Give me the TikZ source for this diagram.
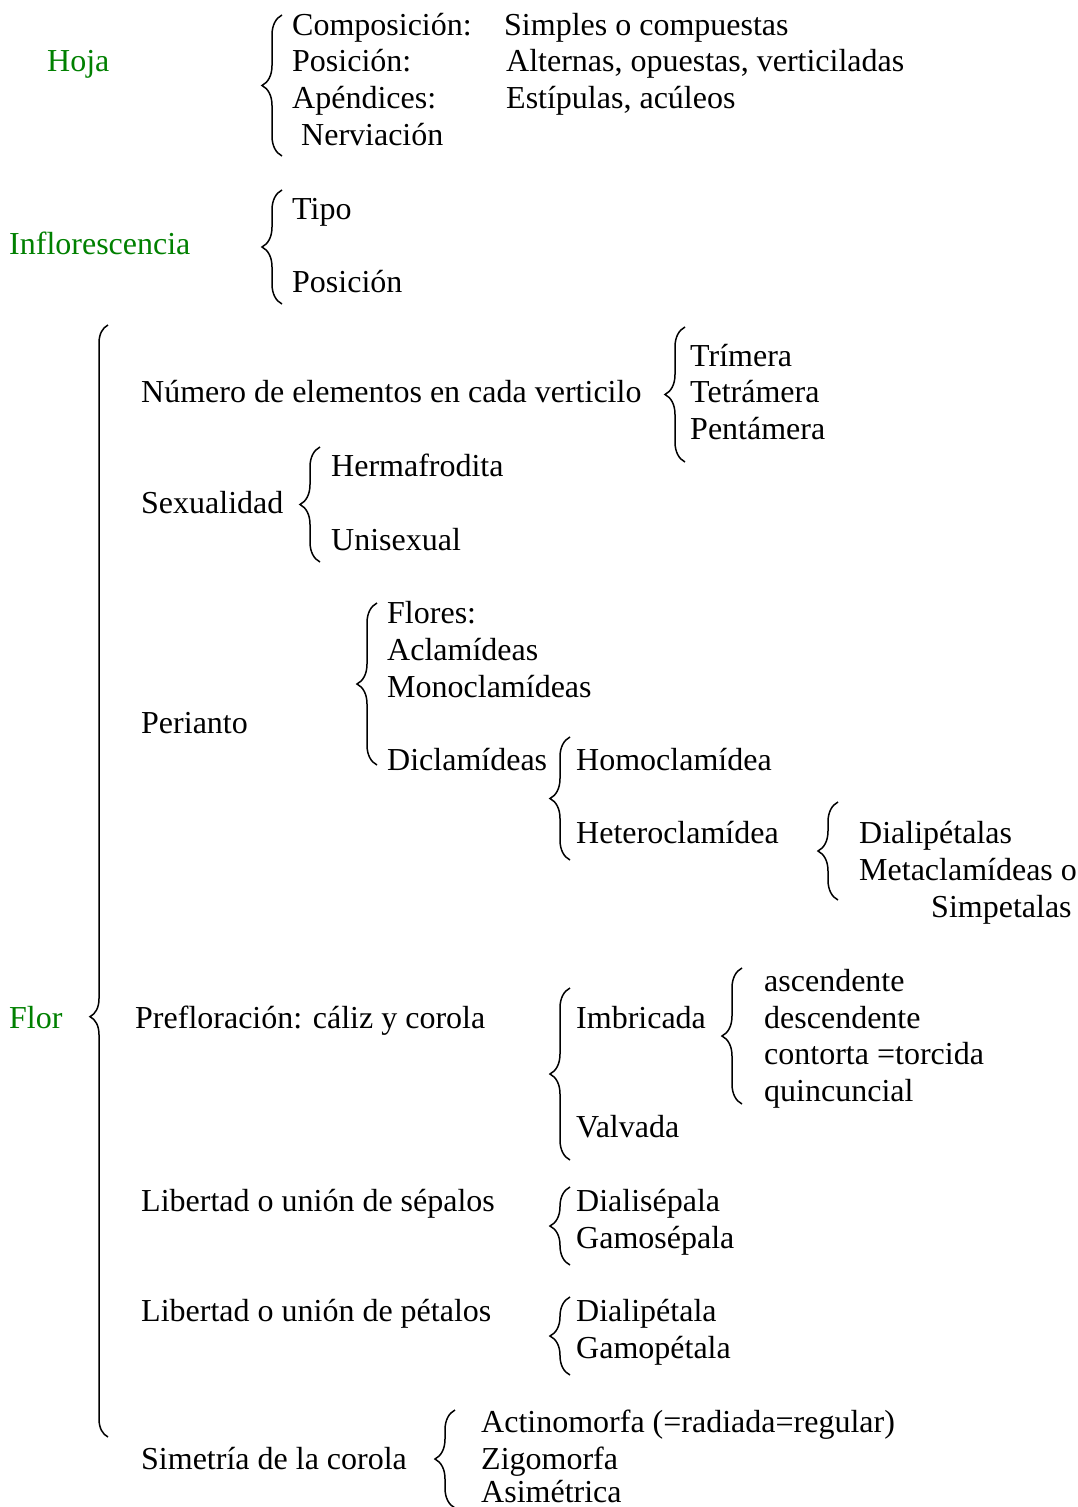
\documentclass[tikz,border=0pt]{standalone}
\usepackage{fontspec}
\setmainfont{Liberation Serif}
\usepackage{tikz}
\usetikzlibrary{decorations.pathreplacing}
\definecolor{leafgreen}{RGB}{0,128,0}
\tikzset{
  txt/.style={
    anchor=base west,
    inner sep=0pt,
    font=\fontsize{32}{37}\selectfont
  },
  group label/.style={
    txt,
    text=leafgreen
  },
  brace line/.style={
    decorate,
    decoration={brace, amplitude=#1},
    line width=1.5pt
  },
  brace line/.default=20pt
}

\begin{document}
\begin{tikzpicture}[x=1pt, y=-1pt]
    \useasboundingbox (0,0) rectangle (1078,1507);

    % 1. Hoja
    \node[group label] (hoja) at (47,71) {Hoja};
    \draw[brace line] (282,156) -- (282,15);
    \node[txt] (composicion) at (292,35) {Composición:};
    \node[txt] (simples) at (504,35) {Simples o compuestas};
    \node[txt] (posicion) at (292,71) {Posición:};
    \node[txt] (alternas) at (506,71) {Alternas, opuestas, verticiladas};
    \node[txt] (apendices) at (292,108) {Apéndices:};
    \node[txt] (estipulas) at (506,108) {Estípulas, acúleos};
    \node[txt] (nerviacion) at (301,145) {Nerviación};

    % 2. Inflorescencia
    \node[group label] (inflorescencia) at (9,254) {Inflorescencia};
    \draw[brace line] (282,304) -- (282,190);
    \node[txt] (tipo) at (292,219) {Tipo};
    \node[txt] (posinflo) at (292,292) {Posición};

    % 3. Flor (llave grande, punta desplazada hacia abajo)
    \node[group label] (flor) at (9,1028) {Flor};
    \draw[decorate, decoration={brace, amplitude=18pt, aspect=0.378},
          line width=1.5pt] (108,1437) -- (108,325);

    % numero de elementos
    \node[txt] (numero) at (141,402) {Número de elementos en cada verticilo};
    \draw[brace line] (685,462) -- (685,327);
    \node[txt] (trimera) at (690,366) {Trímera};
    \node[txt] (tetramera) at (690,402) {Tetrámera};
    \node[txt] (pentamera) at (690,439) {Pentámera};

    % sexualidad
    \node[txt] (sexualidad) at (141,513) {Sexualidad};
    \draw[brace line] (320,562) -- (320,447);
    \node[txt] (hermafrodita) at (331,476) {Hermafrodita};
    \node[txt] (unisexual) at (331,550) {Unisexual};

    % perianto
    \node[txt] (perianto) at (141,733) {Perianto};
    \draw[brace line] (377,765) -- (377,603);
    \node[txt] (flores) at (387,623) {Flores:};
    \node[txt] (aclamideas) at (387,660) {Aclamídeas};
    \node[txt] (monoclamideas) at (387,697) {Monoclamídeas};
    \node[txt] (diclamideas) at (387,770) {Diclamídeas};
    \draw[brace line] (570,860) -- (570,737);
    \node[txt] (homoclamidea) at (576,770) {Homoclamídea};
    \node[txt] (heteroclamidea) at (576,843) {Heteroclamídea};
    \draw[brace line] (838,900) -- (838,802);
    \node[txt] (dialipetalas) at (859,843) {Dialipétalas};
    \node[txt] (metaclamideas) at (859,880) {Metaclamídeas o};
    \node[txt] (simpetalas) at (931,917) {Simpetalas};

    % prefloracion
    \node[txt] (prefloracion) at (135,1028) {Prefloración: cáliz y corola};
    \draw[brace line] (570,1160) -- (570,988);
    \node[txt] (imbricada) at (576,1028) {Imbricada};
    \node[txt] (valvada) at (576,1137) {Valvada};
    \draw[brace line] (742,1104) -- (742,968);
    \node[txt] (ascendente) at (764,991) {ascendente};
    \node[txt] (descendente) at (764,1028) {descendente};
    \node[txt] (contorta) at (764,1064) {contorta =torcida};
    \node[txt] (quincuncial) at (764,1101) {quincuncial};

    % sepalos y petalos
    \node[txt] (sepalos) at (141,1211) {Libertad o unión de sépalos};
    \draw[brace line] (570,1265) -- (570,1187);
    \node[txt] (dialisepala) at (576,1211) {Dialisépala};
    \node[txt] (gamosepala) at (576,1248) {Gamosépala};
    \node[txt] (petalos) at (141,1321) {Libertad o unión de pétalos};
    \draw[brace line] (570,1375) -- (570,1297);
    \node[txt] (dialipetala) at (576,1321) {Dialipétala};
    \node[txt] (gamopetala) at (576,1358) {Gamopétala};

    % simetria
    \node[txt] (simetria) at (141,1469) {Simetría de la corola};
    \draw[brace line] (455,1508) -- (455,1410);
    \node[txt] (actinomorfa) at (481,1432) {Actinomorfa (=radiada=regular)};
    \node[txt] (zigomorfa) at (481,1469) {Zigomorfa};
    \node[txt] (asimetrica) at (481,1502) {Asimétrica};

\end{tikzpicture}
\end{document}
